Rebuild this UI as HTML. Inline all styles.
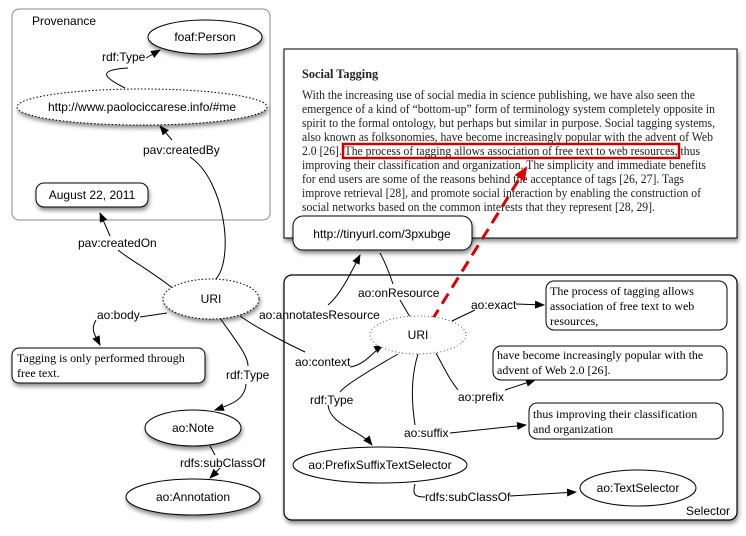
<!DOCTYPE html>
<html><head><meta charset="utf-8"><style>
html,body{margin:0;padding:0;background:#fff;}
svg{display:block;}
.s{font-family:"Liberation Sans",sans-serif;font-size:12px;fill:#000;}
.t{font-family:"Liberation Serif",serif;font-size:12px;fill:#000;}
.d{font-family:"Liberation Serif",serif;font-size:12.3px;fill:#222;}
</style></head><body>
<svg width="746" height="536" viewBox="0 0 746 536" xmlns="http://www.w3.org/2000/svg">
<defs>
<marker id="a" markerWidth="10" markerHeight="8" refX="9" refY="4" orient="auto" markerUnits="userSpaceOnUse"><path d="M0,0 L10,4 L0,8 z" fill="#000"/></marker>
<marker id="r" markerWidth="14" markerHeight="12" refX="12" refY="6" orient="auto" markerUnits="userSpaceOnUse"><path d="M0,0 L14,6 L0,12 z" fill="#d00"/></marker>
<filter id="sh" x="-20%" y="-20%" width="140%" height="150%"><feDropShadow dx="1" dy="3" stdDeviation="2" flood-color="#000" flood-opacity="0.45"/></filter>
</defs>
<rect x="12" y="9" width="258" height="211" rx="7" fill="#fff" stroke="#888" stroke-width="1"/>
<text x="32" y="25" class="s">Provenance</text>
<rect x="284" y="275" width="453" height="245" rx="8" fill="#fff" stroke="#000" stroke-width="1.2" filter="url(#sh)"/>
<text x="686" y="515" class="s">Selector</text>
<rect x="284" y="49" width="453" height="189" fill="#fff" stroke="#000" stroke-width="1" filter="url(#sh)"/>
<text x="302" y="78" class="d" font-weight="bold" font-size="11.5">Social Tagging</text>
<g class="d" lengthAdjust="spacingAndGlyphs">
<text x="302" y="99" textLength="393" lengthAdjust="spacingAndGlyphs">With the increasing use of social media in science publishing, we have also seen the</text>
<text x="302" y="113" textLength="413" lengthAdjust="spacingAndGlyphs">emergence of a kind of “bottom-up” form of terminology system completely opposite in</text>
<text x="302" y="127" textLength="413" lengthAdjust="spacingAndGlyphs">spirit to the formal ontology, but perhaps but similar in purpose. Social tagging systems,</text>
<text x="302" y="141" textLength="411" lengthAdjust="spacingAndGlyphs">also known as folksonomies, have become increasingly popular with the advent of Web</text>
<text x="302" y="155" textLength="398" lengthAdjust="spacingAndGlyphs">2.0 [26]. The process of tagging allows association of free text to web resources, thus</text>
<text x="302" y="169" textLength="404" lengthAdjust="spacingAndGlyphs">improving their classification and organization. The simplicity and immediate benefits</text>
<text x="302" y="183" textLength="382" lengthAdjust="spacingAndGlyphs">for end users are some of the reasons behind the acceptance of tags [26, 27]. Tags</text>
<text x="302" y="197" textLength="399" lengthAdjust="spacingAndGlyphs">improve retrieval [28], and promote social interaction by enabling the construction of</text>
<text x="302" y="211" textLength="353" lengthAdjust="spacingAndGlyphs">social networks based on the common interests that they represent [28, 29].</text>
</g>
<rect x="343" y="144" width="336" height="14" fill="none" stroke="#c00" stroke-width="2.5"/>
<g fill="none" stroke="#000" stroke-width="1">
<path d="M128,68 C95,70 105,78 125,88"/>
<path d="M146,58 L160,50" marker-end="url(#a)"/>
<path d="M190,157 C225,180 235,260 215,280"/>
<path d="M172,140 L160,126" marker-end="url(#a)"/>
<path d="M175,290 C150,270 130,260 118,250"/>
<path d="M110,236 L100,213" marker-end="url(#a)"/>
<path d="M167,313 L140,317"/>
<path d="M96,320 C90,330 95,335 100,345" marker-end="url(#a)"/>
<path d="M220,318 C235,340 248,355 248,366"/>
<path d="M246,384 C245,400 230,405 215,410" marker-end="url(#a)"/>
<path d="M210,446 L215,455"/>
<path d="M220,468 L210,478" marker-end="url(#a)"/>
<path d="M240,316 C260,330 290,345 305,352"/>
<path d="M350,367 C365,365 375,350 383,345" marker-end="url(#a)"/>
<path d="M328,305 C340,295 350,275 360,255" marker-end="url(#a)"/>
<path d="M410,317 L400,300"/>
<path d="M393,284 C390,275 385,262 380,253"/>
<path d="M452,321 L475,310"/>
<path d="M516,304 L544,305" marker-end="url(#a)"/>
<path d="M436,353 C445,370 450,380 458,390"/>
<path d="M505,390 L535,380" marker-end="url(#a)"/>
<path d="M418,354 C410,380 412,405 415,425"/>
<path d="M450,433 L526,425" marker-end="url(#a)"/>
<path d="M398,354 C370,370 345,385 340,392"/>
<path d="M328,405 C330,425 360,430 372,445" marker-end="url(#a)"/>
<path d="M415,484 C412,495 415,497 425,497"/>
<path d="M510,496 L576,492" marker-end="url(#a)"/>
</g>
<path d="M432,320 L526,168" stroke="#d00" stroke-width="3" stroke-dasharray="12,7" fill="none" marker-end="url(#r)"/>
<ellipse cx="205" cy="37" rx="57" ry="17" fill="#fff" stroke="#000" filter="url(#sh)"/>
<text x="205" y="41" class="s" text-anchor="middle">foaf:Person</text>
<ellipse cx="142" cy="107" rx="125" ry="18" fill="#fff" stroke="#000" stroke-dasharray="1.5,2" filter="url(#sh)"/>
<text x="142" y="111" class="s" text-anchor="middle">http://www.paolociccarese.info/#me</text>
<rect x="36" y="183" width="112" height="24" rx="8" fill="#fff" stroke="#000" filter="url(#sh)"/>
<text x="92" y="199" class="s" text-anchor="middle">August 22, 2011</text>
<rect x="293" y="216" width="179" height="34" rx="10" fill="#fff" stroke="#000" filter="url(#sh)"/>
<text x="382" y="238" class="s" text-anchor="middle">http://tinyurl.com/3pxubge</text>
<ellipse cx="211" cy="299" rx="48" ry="20" fill="#fff" stroke="#000" stroke-dasharray="1.5,2" filter="url(#sh)"/>
<text x="211" y="303" class="s" text-anchor="middle">URI</text>
<rect x="12" y="348" width="193" height="35" rx="7" fill="#fff" stroke="#000" filter="url(#sh)"/>
<text x="17" y="362" class="t">Tagging is only performed through</text>
<text x="17" y="377" class="t">free text.</text>
<ellipse cx="193" cy="428" rx="48" ry="18" fill="#fff" stroke="#000" filter="url(#sh)"/>
<text x="193" y="432" class="s" text-anchor="middle">ao:Note</text>
<ellipse cx="193" cy="497" rx="67" ry="18" fill="#fff" stroke="#000" filter="url(#sh)"/>
<text x="193" y="501" class="s" text-anchor="middle">ao:Annotation</text>
<ellipse cx="418" cy="335" rx="48" ry="19" fill="#fff" stroke="#555" stroke-dasharray="1,2.5"/>
<text x="418" y="339" class="s" text-anchor="middle">URI</text>
<rect x="546" y="281" width="181" height="49" rx="8" fill="#fff" stroke="#000"/>
<text x="550" y="295" class="t">The process of tagging allows</text>
<text x="550" y="310" class="t">association of free text to web</text>
<text x="550" y="325" class="t">resources,</text>
<rect x="493" y="346" width="234" height="34" rx="8" fill="#fff" stroke="#000"/>
<text x="497" y="359" class="t">have become increasingly popular with the</text>
<text x="497" y="374" class="t">advent of Web 2.0 [26].</text>
<rect x="529" y="403" width="194" height="36" rx="8" fill="#fff" stroke="#000"/>
<text x="533" y="418" class="t">thus improving their classification</text>
<text x="533" y="433" class="t">and organization</text>
<ellipse cx="380" cy="465" rx="87" ry="18" fill="#fff" stroke="#000"/>
<text x="380" y="469" class="s" text-anchor="middle">ao:PrefixSuffixTextSelector</text>
<ellipse cx="638" cy="488" rx="58" ry="18" fill="#fff" stroke="#000"/>
<text x="638" y="492" class="s" text-anchor="middle">ao:TextSelector</text>
<g class="s">
<text x="102" y="61">rdf:Type</text>
<text x="143" y="154">pav:createdBy</text>
<text x="78" y="247">pav:createdOn</text>
<text x="97" y="319">ao:body</text>
<text x="226" y="379">rdf:Type</text>
<text x="180" y="467">rdfs:subClassOf</text>
<text x="259" y="319">ao:annotatesResource</text>
<text x="358" y="297">ao:onResource</text>
<text x="295" y="366">ao:context</text>
<text x="471" y="309">ao:exact</text>
<text x="458" y="401">ao:prefix</text>
<text x="404" y="437">ao:suffix</text>
<text x="310" y="404">rdf:Type</text>
<text x="425" y="501">rdfs:subClassOf</text>
</g>
</svg>
</body></html>
